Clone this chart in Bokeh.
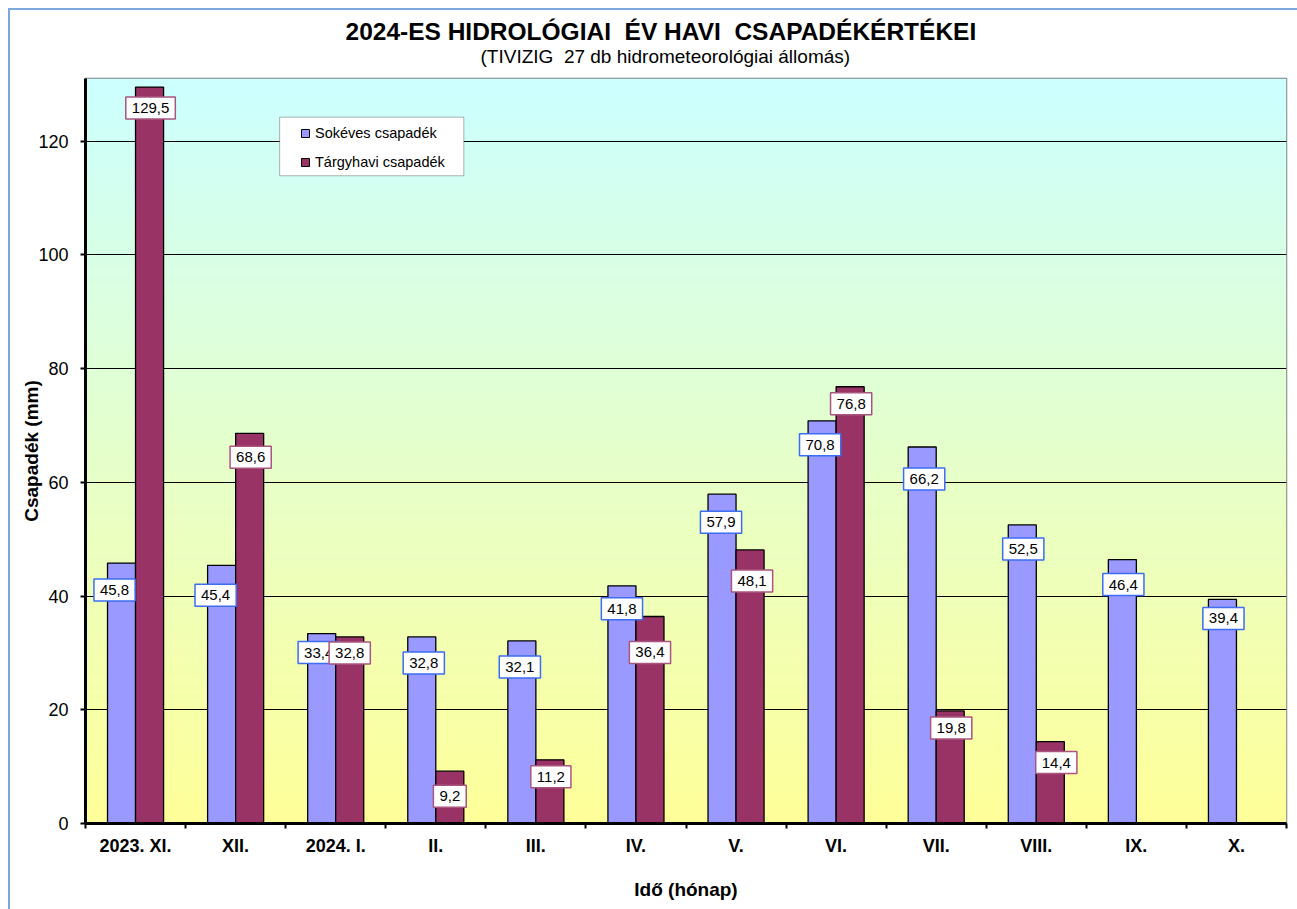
import numpy as np
from bokeh.plotting import figure
from bokeh.models import Range1d, FixedTicker, Legend, LegendItem, Title, BoxAnnotation
from bokeh.core.properties import value
from bokeh.embed import file_html
from bokeh.resources import INLINE

# ---------------- data ----------------
categories = ["2023. XI.", "XII.", "2024. I.", "II.", "III.", "IV.", "V.", "VI.",
              "VII.", "VIII.", "IX.", "X."]
sokeves = [45.8, 45.4, 33.4, 32.8, 32.1, 41.8, 57.9, 70.8, 66.2, 52.5, 46.4, 39.4]
targyhavi = [129.5, 68.6, 32.8, 9.2, 11.2, 36.4, 48.1, 76.8, 19.8, 14.4]
y_ticks = [0, 20, 40, 60, 80, 100, 120]
series_names = ["Sokéves csapadék", "Tárgyhavi csapadék"]
title_text = "2024-ES HIDROLÓGIAI \u00a0ÉV HAVI \u00a0CSAPADÉKÉRTÉKEI"
subtitle_text = "(TIVIZIG \u00a027 db hidrometeorológiai állomás)"
x_title = "Idő (hónap)"
y_title = "Csapadék (mm)"

# label placement nudges in pixels (as in the original)
blue_dx = [-7, -6, -3, 2, -2, 0, -1, -2, 2, 1, 1, 1]
blue_dy = [27, 30, 19, 26, 26, 23, 28, 24, 32, 24, 25, 19]
red_dx = [1, 1, 0, 0, 1, 0, 2, 1, 1, 6]
red_dy = [21, 24, 16, 25, 17, 36, 31, 17, 17, 21]

# ---------------- style ----------------
FONT = "Liberation Sans"
BLUE = "#9999FF"
PURPLE = "#993366"
BLUE_EDGE = "#3D6DF2"
PURPLE_EDGE = "#A9557F"
BAR_W = 0.28
Y_MAX = 131

W, H = 1297, 909
p = figure(width=W, height=H, output_backend="svg", toolbar_location=None,
           x_range=Range1d(0, len(categories)), y_range=Range1d(0, Y_MAX),
           min_border_left=85, min_border_right=11, min_border_top=78, min_border_bottom=86)
p.background_fill_color = "white"
p.border_fill_color = "white"
p.outline_line_color = "#808080"
p.outline_line_width = 1.5

# gradient background of the plot area
N = 256
img = np.empty((N, 1), dtype=np.uint32)
view = img.view(dtype=np.uint8).reshape((N, 1, 4))
top = np.array([204, 255, 255])
bot = np.array([255, 255, 153])
for i in range(N):
    t = i / (N - 1)
    c = bot * (1 - t) + top * t
    view[i, 0, 0] = int(c[0]); view[i, 0, 1] = int(c[1]); view[i, 0, 2] = int(c[2]); view[i, 0, 3] = 255
p.image_rgba(image=[img], x=0, y=0, dw=len(categories), dh=Y_MAX, level="image")

centers = np.arange(len(categories)) + 0.5
bx = centers - BAR_W / 2
rx = centers[:len(targyhavi)] + BAR_W / 2

p.vbar(x=bx, top=sokeves, width=BAR_W, fill_color=BLUE, line_color="black", line_width=1.3)
p.vbar(x=rx, top=targyhavi, width=BAR_W, fill_color=PURPLE, line_color="black", line_width=1.3)

fmt = lambda v: f"{v:.1f}".replace(".", ",")
p.text(x=bx, y=sokeves, text=[fmt(v) for v in sokeves], x_offset=blue_dx, y_offset=blue_dy,
       text_align="center", text_baseline="middle", text_font=value(FONT), text_font_size="15px",
       text_color="black", background_fill_color="white", border_line_color=BLUE_EDGE,
       border_line_width=1.5, padding=dict(x=6, y=6))
p.text(x=rx, y=targyhavi, text=[fmt(v) for v in targyhavi], x_offset=red_dx, y_offset=red_dy,
       text_align="center", text_baseline="middle", text_font=value(FONT), text_font_size="15px",
       text_color="black", background_fill_color="white", border_line_color=PURPLE_EDGE,
       border_line_width=1.5, padding=dict(x=6, y=6))

# grid
p.xgrid.visible = False
p.ygrid.grid_line_color = "black"
p.ygrid.grid_line_width = 1

# y axis
ya = p.yaxis[0]
ya.ticker = FixedTicker(ticks=y_ticks)
ya.axis_line_width = 3
ya.axis_line_color = "black"
ya.major_tick_out = 5
ya.major_tick_in = 0
ya.major_tick_line_width = 2
ya.minor_tick_out = 0
ya.minor_tick_in = 0
ya.major_label_text_font = FONT
ya.major_label_text_font_size = "18px"
ya.major_label_text_color = "black"
ya.major_label_standoff = 12
ya.axis_label = y_title
ya.axis_label_text_font = FONT
ya.axis_label_text_font_size = "19px"
ya.axis_label_text_font_style = "bold"
ya.axis_label_text_color = "black"
ya.axis_label_standoff = -7

# x axis
xa = p.xaxis[0]
xa.ticker = FixedTicker(ticks=list(centers), minor_ticks=list(range(len(categories) + 1)))
xa.major_label_overrides = {float(c): name for c, name in zip(centers, categories)}
xa.axis_line_width = 3
xa.axis_line_color = "black"
xa.major_tick_out = 0
xa.major_tick_in = 0
xa.minor_tick_out = 5
xa.minor_tick_in = 0
xa.minor_tick_line_color = "black"
xa.minor_tick_line_width = 2
xa.major_label_text_font = FONT
xa.major_label_text_font_size = "18px"
xa.major_label_text_font_style = "bold"
xa.major_label_text_color = "black"
xa.major_label_standoff = 7
xa.axis_label = x_title
xa.axis_label_text_font = FONT
xa.axis_label_text_font_size = "19px"
xa.axis_label_text_font_style = "bold"
xa.axis_label_text_color = "black"
xa.axis_label_standoff = 20

# legend frame + legend (legend-only marker renderers)
p.add_layout(BoxAnnotation(left=1.94, right=3.78, top=124.2, bottom=113.9,
                           fill_color="white", fill_alpha=1.0, line_color="black", line_width=1))
r1 = p.scatter(x=np.array([np.nan]), y=np.array([np.nan]), marker="square", size=8,
               fill_color=BLUE, line_color="black", line_width=1)
r2 = p.scatter(x=np.array([np.nan]), y=np.array([np.nan]), marker="square", size=8,
               fill_color=PURPLE, line_color="black", line_width=1)
legend = Legend(items=[LegendItem(label=series_names[0], renderers=[r1]),
                       LegendItem(label=series_names[1], renderers=[r2])],
                location=(210, 651), padding=0, spacing=9, glyph_width=20, glyph_height=20,
                label_height=20, label_standoff=0,
                label_text_font=FONT, label_text_font_size="14.5px", label_text_color="black",
                border_line_alpha=0, background_fill_alpha=0)
p.add_layout(legend)

# titles (subtitle nearest the plot area)
p.add_layout(Title(text=subtitle_text, align="left", offset=395, text_font=FONT,
                   text_font_size="19px", text_font_style="normal", text_color="black",
                   standoff=23), "above")
p.add_layout(Title(text=title_text, align="left", offset=260, text_font=FONT,
                   text_font_size="24.5px", text_font_style="bold", text_color="black",
                   standoff=-24), "above")

html = file_html(p, INLINE)
border = ('<div style="position:fixed;left:8px;top:8px;width:3000px;height:3000px;'
          'border-top:2px solid #7BA7DC;border-left:2px solid #7BA7DC;'
          'box-sizing:border-box;pointer-events:none;"></div>')
html = html.replace("</body>", border + "</body>")
open("out.html", "w").write(html)
